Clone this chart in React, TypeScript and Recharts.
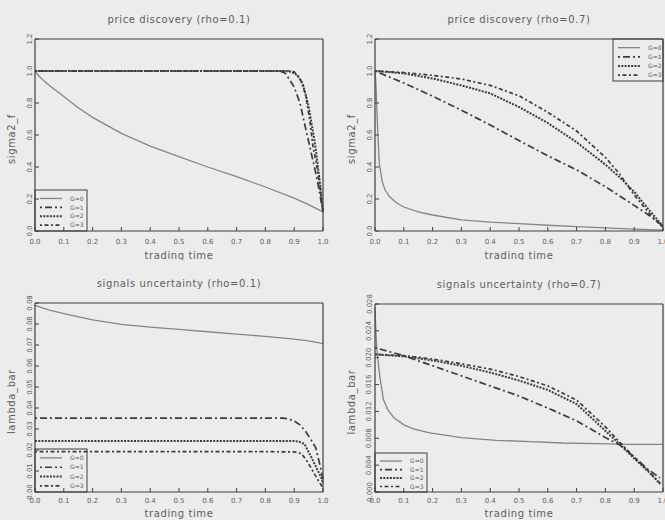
import React from 'react';
import { LineChart, Line, XAxis, YAxis } from 'recharts';

// ---------- tick labels ----------
const xTicks = [0, 0.1, 0.2, 0.3, 0.4, 0.5, 0.6, 0.7, 0.8, 0.9, 1.0];
const sigmaTicks = [0, 0.2, 0.4, 0.6, 0.8, 1.0, 1.2];
const lambdaTicks01 = [0, 0.01, 0.02, 0.03, 0.04, 0.05, 0.06, 0.07, 0.08, 0.09];
const lambdaTicks07 = [0, 0.004, 0.008, 0.012, 0.016, 0.02, 0.024, 0.028];
const seriesNames = ['G=0', 'G=1', 'G=2', 'G=3'];

// ---------- price discovery (rho=0.1) ----------
const pd1G0x = [0, 0.01, 0.03, 0.05, 0.1, 0.15, 0.2, 0.3, 0.4, 0.5, 0.6, 0.7, 0.8, 0.9, 0.95, 1.0];
const pd1G0y = [1.0, 0.975, 0.94, 0.91, 0.84, 0.77, 0.71, 0.61, 0.53, 0.465, 0.4, 0.34, 0.275, 0.205, 0.165, 0.12];
const pd1G1x = [0, 0.1, 0.2, 0.3, 0.4, 0.5, 0.6, 0.7, 0.8, 0.85, 0.87, 0.9, 0.92, 0.94, 0.96, 0.98, 0.99, 1.0];
const pd1G1y = [1.0, 1.0, 1.0, 1.0, 1.0, 1.0, 1.0, 1.0, 1.0, 1.0, 0.985, 0.9, 0.8, 0.64, 0.48, 0.32, 0.22, 0.12];
const pd1G2x = [0, 0.1, 0.2, 0.3, 0.4, 0.5, 0.6, 0.7, 0.8, 0.87, 0.89, 0.91, 0.93, 0.95, 0.97, 0.98, 0.99, 1.0];
const pd1G2y = [1.0, 1.0, 1.0, 1.0, 1.0, 1.0, 1.0, 1.0, 1.0, 1.0, 0.995, 0.975, 0.92, 0.78, 0.57, 0.44, 0.29, 0.12];
const pd1G3x = [0, 0.1, 0.2, 0.3, 0.4, 0.5, 0.6, 0.7, 0.8, 0.88, 0.9, 0.92, 0.94, 0.955, 0.965, 0.978, 0.99, 1.0];
const pd1G3y = [1.0, 1.0, 1.0, 1.0, 1.0, 1.0, 1.0, 1.0, 1.0, 1.0, 0.995, 0.955, 0.85, 0.68, 0.53, 0.41, 0.27, 0.12];

// ---------- price discovery (rho=0.7) ----------
const pd7G0x = [0, 0.003, 0.006, 0.01, 0.015, 0.025, 0.035, 0.05, 0.065, 0.08, 0.1, 0.15, 0.2, 0.3, 0.4, 0.5, 0.6, 0.7, 0.8, 0.9, 1.0];
const pd7G0y = [1.0, 0.93, 0.78, 0.6, 0.42, 0.31, 0.256, 0.215, 0.19, 0.17, 0.15, 0.12, 0.1, 0.069, 0.055, 0.046, 0.036, 0.027, 0.019, 0.012, 0.006];
const pd7G1x = [0, 0.1, 0.2, 0.3, 0.4, 0.5, 0.6, 0.7, 0.8, 0.9, 0.95, 1.0];
const pd7G1y = [1.0, 0.925, 0.843, 0.755, 0.662, 0.565, 0.47, 0.382, 0.277, 0.16, 0.1, 0.03];
const pd7G2x = [0, 0.1, 0.2, 0.3, 0.4, 0.5, 0.6, 0.7, 0.8, 0.85, 0.9, 0.95, 1.0];
const pd7G2y = [1.0, 0.985, 0.953, 0.91, 0.86, 0.775, 0.675, 0.555, 0.415, 0.335, 0.245, 0.135, 0.03];
const pd7G3x = [0, 0.1, 0.2, 0.3, 0.4, 0.5, 0.6, 0.7, 0.8, 0.85, 0.9, 0.95, 1.0];
const pd7G3y = [1.0, 0.99, 0.973, 0.95, 0.91, 0.845, 0.742, 0.625, 0.46, 0.355, 0.225, 0.115, 0.02];

// ---------- signals uncertainty (rho=0.1) ----------
const su1G0x = [0, 0.05, 0.1, 0.2, 0.3, 0.4, 0.5, 0.6, 0.7, 0.8, 0.9, 0.95, 1.0];
const su1G0y = [0.0889, 0.0866, 0.0849, 0.082, 0.0798, 0.0785, 0.0774, 0.0763, 0.0752, 0.0741, 0.0728, 0.072, 0.0707];
const su1G1x = [0, 0.1, 0.2, 0.3, 0.4, 0.5, 0.6, 0.7, 0.8, 0.86, 0.88, 0.9, 0.92, 0.94, 0.96, 0.975, 0.99, 1.0];
const su1G1y = [0.0352, 0.0352, 0.0352, 0.0352, 0.0352, 0.0352, 0.0352, 0.0352, 0.0352, 0.0352, 0.0348, 0.0338, 0.032, 0.0288, 0.0245, 0.021, 0.0125, 0.006];
const su1G2x = [0, 0.1, 0.2, 0.3, 0.4, 0.5, 0.6, 0.7, 0.8, 0.9, 0.92, 0.936, 0.96, 0.977, 0.994, 1.0];
const su1G2y = [0.0243, 0.0243, 0.0243, 0.0243, 0.0243, 0.0243, 0.0243, 0.0243, 0.0243, 0.0243, 0.0238, 0.0228, 0.0164, 0.0116, 0.0068, 0.004];
const su1G3x = [0, 0.1, 0.2, 0.3, 0.4, 0.5, 0.6, 0.7, 0.8, 0.9, 0.925, 0.948, 0.971, 0.988, 1.0];
const su1G3y = [0.0192, 0.0192, 0.0192, 0.0192, 0.0192, 0.0192, 0.0192, 0.0192, 0.0192, 0.0191, 0.0183, 0.014, 0.0084, 0.0045, 0.002];

// ---------- signals uncertainty (rho=0.7) ----------
const su7G0x = [0, 0.003, 0.006, 0.012, 0.017, 0.029, 0.045, 0.065, 0.1, 0.133, 0.19, 0.3, 0.42, 0.54, 0.65, 0.77, 0.885, 1.0];
const su7G0y = [0.0275, 0.024, 0.0216, 0.019, 0.0171, 0.0138, 0.0122, 0.0111, 0.01, 0.0094, 0.0088, 0.0081, 0.0077, 0.0075, 0.0073, 0.0072, 0.0071, 0.0071];
const su7G1x = [0, 0.1, 0.2, 0.3, 0.4, 0.5, 0.6, 0.7, 0.8, 0.85, 0.9, 0.95, 0.99];
const su7G1y = [0.0215, 0.0203, 0.0188, 0.0173, 0.0158, 0.0143, 0.0125, 0.0106, 0.0081, 0.007, 0.0052, 0.0033, 0.0021];
const su7G2x = [0, 0.1, 0.2, 0.3, 0.4, 0.5, 0.6, 0.7, 0.8, 0.85, 0.9, 0.95, 0.99];
const su7G2y = [0.0205, 0.0202, 0.0196, 0.0188, 0.0178, 0.0166, 0.0152, 0.0131, 0.0091, 0.0071, 0.005, 0.003, 0.0012];
const su7G3x = [0, 0.1, 0.2, 0.3, 0.4, 0.5, 0.6, 0.7, 0.8, 0.85, 0.9, 0.95, 0.99];
const su7G3y = [0.0205, 0.0203, 0.0198, 0.0191, 0.0183, 0.0172, 0.0158, 0.0137, 0.0097, 0.0074, 0.0052, 0.0031, 0.0013];

// ---------- styling ----------
const FONT = '"DejaVu Sans", "Liberation Sans", sans-serif';
const TEXT = '#5c5c5c';
const AXIS = '#3e3e3e';
const BG = '#ececec';

type Sty = { color: string; width: number; dash?: string };
const lineStyles: Sty[] = [
  { color: '#858585', width: 1.3 },
  { color: '#3c3c3c', width: 1.7, dash: '2 3 7 3' },
  { color: '#3c3c3c', width: 2, dash: '2 1.3' },
  { color: '#3c3c3c', width: 1.7, dash: '2 2.5 4 2.5' },
];

type Pt = { x: number; y: number };
const toData = (xs: number[], ys: number[]): Pt[] => xs.map((x, i) => ({ x, y: ys[i] }));

const Empty = () => <g />;

const makeXTick = (dy: number) => (props: any) => {
  const { x, y, payload } = props;
  return (
    <text x={x} y={y + dy} textAnchor="middle" fontSize={7} fill={TEXT} fontFamily={FONT}>
      {Number(payload.value).toFixed(1)}
    </text>
  );
};

const makeYTick = (digits: number) => (props: any) => {
  const { x, y, payload } = props;
  const bx = x - 7.5;
  return (
    <text
      x={bx}
      y={y}
      transform={`rotate(-90 ${bx} ${y})`}
      textAnchor="middle"
      fontSize={7}
      fill={TEXT}
      fontFamily={FONT}
    >
      {Number(payload.value).toFixed(digits)}
    </text>
  );
};

type LegendCfg = { x: number; y: number; w: number; h: number };

const LegendBox = ({ x, y, w, h }: LegendCfg) => {
  const rowH = h / 4.6;
  return (
    <g>
      <rect x={x} y={y} width={w} height={h} fill={BG} stroke={AXIS} strokeWidth={1} />
      {seriesNames.map((n, i) => {
        const ry = y + rowH * (i + 0.95);
        const s = lineStyles[i];
        return (
          <g key={n}>
            <line
              x1={x + 5}
              x2={x + 27}
              y1={ry}
              y2={ry}
              stroke={s.color}
              strokeWidth={s.width}
              strokeDasharray={s.dash}
            />
            <text x={x + 35} y={ry + 2.2} fontSize={6} fill={TEXT} fontFamily={FONT}>
              {n}
            </text>
          </g>
        );
      })}
    </g>
  );
};

type PanelProps = {
  left: number;
  top: number;
  plotTop: number;
  plotBottom: number;
  tickDy: number;
  titleDy: number;
  title: string;
  yLabel: string;
  yTicks: number[];
  digits: number;
  series: Pt[][];
  legend: LegendCfg;
};

const W = 332;
const H = 260;
const PL = 35;
const PR = 323;

const Panel = ({ left, top, plotTop, plotBottom, tickDy, titleDy, title, yLabel, yTicks, digits, series, legend }: PanelProps) => {
  const YTick = makeYTick(digits);
  const XTick = makeXTick(tickDy);
  const yMax = yTicks[yTicks.length - 1];
  const cx = (PL + PR) / 2;
  const cy = (plotTop + plotBottom) / 2 + 4;
  return (
    <div style={{ position: 'absolute', left, top, width: W, height: H }}>
      <LineChart
        width={W}
        height={H}
        margin={{ top: plotTop - 4, right: W - PR - 4, bottom: 0, left: 0 }}
      >
        <XAxis
          xAxisId="b"
          dataKey="x"
          type="number"
          domain={[0, 1]}
          ticks={xTicks}
          height={H - plotBottom}
          tickSize={-4}
          tickMargin={0}
          tick={<XTick />}
          axisLine={{ stroke: AXIS, strokeWidth: 1.2 }}
          tickLine={{ stroke: AXIS }}
          interval={0}
        />
        <XAxis
          xAxisId="t"
          orientation="top"
          dataKey="x"
          type="number"
          domain={[0, 1]}
          ticks={xTicks}
          height={4}
          tickSize={-4}
          tick={Empty}
          axisLine={{ stroke: AXIS, strokeWidth: 1.2 }}
          tickLine={{ stroke: AXIS }}
          interval={0}
        />
        <YAxis
          yAxisId="l"
          type="number"
          domain={[0, yMax]}
          ticks={yTicks}
          width={PL}
          tickSize={-4}
          tickMargin={0}
          tick={<YTick />}
          axisLine={{ stroke: AXIS, strokeWidth: 1.2 }}
          tickLine={{ stroke: AXIS }}
          interval={0}
        />
        <YAxis
          yAxisId="r"
          orientation="right"
          type="number"
          domain={[0, yMax]}
          ticks={yTicks}
          width={4}
          tickSize={-4}
          tick={Empty}
          axisLine={{ stroke: AXIS, strokeWidth: 1.2 }}
          tickLine={{ stroke: AXIS }}
          interval={0}
        />
        {series.map((d, i) => (
          <Line
            key={seriesNames[i]}
            data={d}
            dataKey="y"
            xAxisId="b"
            yAxisId="l"
            type="linear"
            dot={false}
            activeDot={false}
            isAnimationActive={false}
            stroke={lineStyles[i].color}
            strokeWidth={lineStyles[i].width}
            strokeDasharray={lineStyles[i].dash}
          />
        ))}
        <text x={cx} y={plotTop - 16} textAnchor="middle" fontSize={10} fill={TEXT} fontFamily={FONT} letterSpacing={0.6}>
          {title}
        </text>
        <text x={cx} y={plotBottom + titleDy} textAnchor="middle" fontSize={10} fill={TEXT} fontFamily={FONT} letterSpacing={0.6}>
          trading time
        </text>
        <text
          x={15}
          y={cy}
          transform={`rotate(-90 15 ${cy})`}
          textAnchor="middle"
          fontSize={10}
          fill={TEXT}
          fontFamily={FONT}
          letterSpacing={0.6}
        >
          {yLabel}
        </text>
        <LegendBox {...legend} />
      </LineChart>
    </div>
  );
};

export default function App() {
  return (
    <div
      style={{
        position: 'absolute',
        left: 0,
        top: 0,
        width: 665,
        height: 520,
        overflow: 'hidden',
        background: BG,
      }}
    >
      <Panel
        left={0}
        top={0}
        plotTop={39}
        plotBottom={231}
        tickDy={17}
        titleDy={28}
        title="price discovery (rho=0.1)"
        yLabel="sigma2_f"
        yTicks={sigmaTicks}
        digits={1}
        series={[toData(pd1G0x, pd1G0y), toData(pd1G1x, pd1G1y), toData(pd1G2x, pd1G2y), toData(pd1G3x, pd1G3y)]}
        legend={{ x: 35, y: 190, w: 52, h: 41 }}
      />
      <Panel
        left={340}
        top={0}
        plotTop={39}
        plotBottom={231}
        tickDy={17}
        titleDy={28}
        title="price discovery (rho=0.7)"
        yLabel="sigma2_f"
        yTicks={sigmaTicks}
        digits={1}
        series={[toData(pd7G0x, pd7G0y), toData(pd7G1x, pd7G1y), toData(pd7G2x, pd7G2y), toData(pd7G3x, pd7G3y)]}
        legend={{ x: 273, y: 39, w: 50, h: 42 }}
      />
      <Panel
        left={0}
        top={260}
        plotTop={43}
        plotBottom={232}
        tickDy={14.5}
        titleDy={25}
        title="signals uncertainty (rho=0.1)"
        yLabel="lambda_bar"
        yTicks={lambdaTicks01}
        digits={2}
        series={[toData(su1G0x, su1G0y), toData(su1G1x, su1G1y), toData(su1G2x, su1G2y), toData(su1G3x, su1G3y)]}
        legend={{ x: 35, y: 189, w: 52, h: 43 }}
      />
      <Panel
        left={340}
        top={260}
        plotTop={44}
        plotBottom={232}
        tickDy={14.5}
        titleDy={25}
        title="signals uncertainty (rho=0.7)"
        yLabel="lambda_bar"
        yTicks={lambdaTicks07}
        digits={3}
        series={[toData(su7G0x, su7G0y), toData(su7G1x, su7G1y), toData(su7G2x, su7G2y), toData(su7G3x, su7G3y)]}
        legend={{ x: 35, y: 193, w: 52, h: 39 }}
      />
    </div>
  );
}
